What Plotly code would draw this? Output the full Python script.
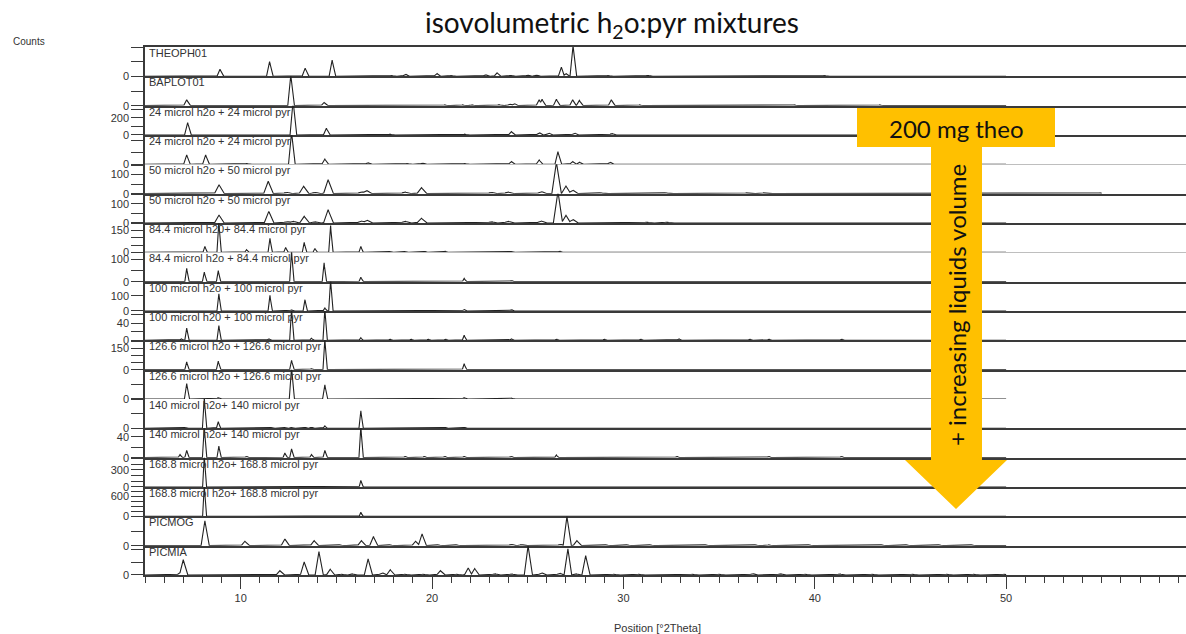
import numpy as np
import plotly.graph_objects as go
from plotly.subplots import make_subplots

# ---------------- data ----------------
sample_names = [
    "THEOPH01", "BAPLOT01",
    "24 microl h2o + 24 microl pyr", "24 microl h2o + 24 microl pyr",
    "50 microl h2o + 50 microl pyr", "50 microl h2o + 50 microl pyr",
    "84.4 microl h20+ 84.4 microl pyr", "84.4 microl h2o + 84.4 microl pyr",
    "100 microl h2o + 100 microl pyr", "100 microl h20 + 100 microl pyr",
    "126.6 microl h2o + 126.6 microl pyr", "126.6 microl h2o + 126.6 microl pyr",
    "140 microl h2o+ 140 microl pyr", "140 microl h2o+ 140 microl pyr",
    "168.8 microl h2o+ 168.8 microl pyr", "168.8 microl h2o+ 168.8 microl pyr",
    "PICMOG", "PICMIA",
]

theoph01_pos = [8.92, 11.51, 13.37, 14.78, 17.88, 18.61, 20.26, 21.0, 22.8, 23.4, 24.1, 25.0, 25.45,
                26.76, 27.0, 27.37, 29.2, 31.27, 32.7, 35.0, 40.5, 41.97, 44.0, 47.0]
theoph01_int = [0.24, 0.5, 0.28, 0.55, 0.03, 0.08, 0.1, 0.03, 0.06, 0.12, 0.04, 0.05, 0.05,
                0.31, 0.1, 1.05, 0.03, 0.04, 0.02, 0.02, 0.03, 0.02, 0.02, 0.02]

baplot01_pos = [7.18, 12.62, 14.36, 20.67, 21.6, 22.1, 23.5, 24.06, 24.3, 25.6, 25.75, 26.5, 27.35,
                27.7, 29.37, 30.85, 33.3, 34.85, 36.4, 38.94, 43.4, 49.3]
baplot01_int = [0.2, 1.05, 0.11, 0.03, 0.03, 0.03, 0.04, 0.06, 0.08, 0.2, 0.22, 0.22, 0.2,
                0.18, 0.2, 0.03, 0.02, 0.02, 0.02, 0.03, 0.03, 0.02]

w24a_pos = [7.23, 9.0, 12.74, 14.48, 17.8, 21.7, 24.15, 25.6, 26.1, 27.45, 29.4, 30.5, 31.0, 36.4, 39.0]
w24a_int = [143, 5, 400, 78, 10, 10, 39, 30, 25, 25, 20, 8, 8, 5, 8]

w24b_pos = [7.18, 8.17, 10.31, 12.66, 14.4, 16.65, 18.7, 19.5, 21.7, 24.15, 25.6, 26.58, 27.35,
            27.7, 29.3, 43.3]
w24b_int = [0.32, 0.32, 0.03, 1.1, 0.18, 0.06, 0.03, 0.05, 0.03, 0.1, 0.15, 0.43, 0.1,
            0.08, 0.08, 0.02]

w50a_pos = [8.87, 11.44, 12.4, 13.29, 13.88, 14.57, 16.3, 16.57, 18.58, 19.45, 23.1, 23.97, 25.7,
            26.5, 27.0, 27.35, 28.8, 32.2, 36.4, 37.3, 42.9, 54.9]
w50a_int = [47, 65, 8, 39, 8, 74, 10, 18, 10, 32, 8, 10, 12,
            165, 40, 20, 5, 5, 4, 4, 3, 4]

w50b_pos = [8.87, 11.47, 12.4, 12.74, 13.32, 13.88, 14.57, 16.3, 16.6, 18.58, 19.45, 23.1, 23.97,
            25.7, 26.58, 27.0, 27.35, 31.2, 32.25, 36.2, 37.6]
w50b_int = [42, 61, 8, 10, 35, 8, 70, 12, 16, 10, 25, 8, 10,
            12, 165, 40, 20, 5, 5, 3, 3]

w84a_pos = [8.13, 8.86, 10.31, 11.53, 12.35, 13.32, 13.88, 14.7, 16.28, 17.8, 18.58, 19.6, 20.67,
            21.1, 24.15, 26.67]
w84a_int = [41, 210, 18, 96, 34, 68, 27, 182, 41, 6, 6, 8, 10, 5, 6, 10]

w84b_pos = [7.18, 8.1, 8.83, 12.66, 14.36, 16.28, 21.68, 24.15, 32.8, 41.4]
w84b_int = [61, 43, 50, 140, 85, 20, 15, 6, 3, 3]

w100a_pos = [8.86, 11.53, 12.66, 13.36, 14.4, 14.7, 16.28, 21.68, 24.15]
w100a_int = [115, 104, 8, 75, 20, 210, 5, 12, 10]

w100b_pos = [6.9, 7.18, 8.86, 11.47, 12.66, 13.7, 14.4, 16.28, 17.8, 18.9, 19.8, 20.7, 21.68,
             24.15, 26.5, 29.0, 30.9, 32.9, 36.6, 37.6, 41.4]
w100b_int = [4, 29, 35, 4, 75, 5, 75, 6, 3, 3, 3, 3, 12, 4, 3, 3, 3, 4, 3, 3, 3]

w126a_pos = [7.18, 8.83, 12.66, 13.7, 14.4, 16.28, 21.68, 24.15, 29.0, 32.8, 36.6]
w126a_int = [55, 60, 67, 8, 220, 5, 43, 5, 3, 3, 3]

w126b_pos = [7.18, 8.83, 12.66, 14.4, 21.68, 24.15]
w126b_int = [0.53, 0.05, 1.1, 0.48, 0.05, 0.03]

w140a_pos = [6.83, 7.09, 8.1, 8.83, 10.31, 11.6, 12.31, 12.66, 13.36, 13.7, 14.4, 16.28, 20.67,
             21.68, 26.6, 32.8, 37.6, 41.4]
w140a_int = [0.02, 0.03, 1.05, 0.23, 0.02, 0.03, 0.03, 0.03, 0.04, 0.04, 0.08, 0.6, 0.04,
             0.04, 0.02, 0.02, 0.02, 0.02]

w140b_pos = [6.83, 7.18, 8.1, 8.86, 10.31, 12.31, 12.66, 13.7, 14.4, 16.28, 18.6, 19.6, 20.67,
             21.68, 24.15, 26.5, 32.8, 37.6, 41.4]
w140b_int = [6, 14, 60, 22, 3, 9, 17, 6, 14, 60, 3, 3, 3, 3, 3, 5, 3, 3, 3]

w168a_pos = [7.09, 8.1, 10.31, 11.61, 12.31, 12.66, 13.7, 16.28, 29.0, 32.8, 36.6]
w168a_int = [10, 560, 5, 8, 8, 8, 5, 118, 4, 4, 4]

w168b_pos = [8.1, 16.28, 29.0, 30.9, 36.6]
w168b_int = [950, 120, 5, 5, 5]

picmog_pos = [8.13, 10.22, 12.31, 13.84, 15.18, 16.31, 16.94, 17.8, 19.14, 19.48, 20.32, 21.28,
              24.15, 24.67, 26.7, 27.05, 27.57, 29.1, 30.2, 31.4, 34.3, 36.9, 37.6, 39.7, 43.5,
              44.8, 46.5, 48.2]
picmog_int = [0.85, 0.15, 0.23, 0.17, 0.03, 0.17, 0.31, 0.03, 0.15, 0.4, 0.03, 0.03,
              0.05, 0.04, 0.05, 1.0, 0.17, 0.03, 0.03, 0.03, 0.03, 0.03, 0.03, 0.03, 0.03,
              0.03, 0.03, 0.03]

picmia_pos = [6.8, 7.0, 9.09, 12.05, 13.32, 14.09, 14.68, 15.27, 15.79, 16.66, 17.39, 17.82, 18.58,
              19.53, 20.44, 21.28, 21.89, 22.23, 23.28, 24.15, 25.02, 25.72, 26.67, 27.1, 27.5,
              28.03, 29.5, 30.8, 33.6, 35.0, 36.75, 38.2, 39.5, 41.3, 43.0, 45.1, 46.9, 48.3, 49.9]
picmia_int = [0.05, 0.52, 0.02, 0.15, 0.45, 0.8, 0.2, 0.03, 0.05, 0.55, 0.08, 0.18, 0.03,
              0.03, 0.15, 0.03, 0.24, 0.22, 0.05, 0.04, 1.0, 0.08, 0.07, 0.89, 0.05,
              0.66, 0.03, 0.03, 0.03, 0.03, 0.05, 0.05, 0.03, 0.04, 0.03, 0.03, 0.03, 0.03, 0.03]

# peak half-widths (deg 2Theta) per pattern
peak_halfwidth = [0.16, 0.16, 0.16, 0.16, 0.24, 0.24, 0.1, 0.1, 0.1, 0.1,
                  0.1, 0.12, 0.1, 0.1, 0.09, 0.09, 0.2, 0.2]

# y-axis scale per panel: top of range, tick spacing, labelled tick values
y_top = [1.0, 1.0, 340, 1.0, 154, 154, 200, 133, 195, 69, 209, 1.0, 1.0, 56, 517, 879, 1.0, 1.0]
y_dtick = [0.5, 0.5, 100, 0.4, 50, 50, 50, 50, 100, 20, 50, 0.5, 0.5, 20, 100, 150, 0.5, 0.44]
y_labelled = [[0], [0], [0, 200], [0], [0, 100], [0, 100], [0, 150], [0, 100], [0, 100], [0, 40],
              [0, 150], [0], [0], [0, 40], [0, 300], [0, 600], [0], [0]]

pattern_pos = [theoph01_pos, baplot01_pos, w24a_pos, w24b_pos, w50a_pos, w50b_pos, w84a_pos,
               w84b_pos, w100a_pos, w100b_pos, w126a_pos, w126b_pos, w140a_pos, w140b_pos,
               w168a_pos, w168b_pos, picmog_pos, picmia_pos]
pattern_int = [theoph01_int, baplot01_int, w24a_int, w24b_int, w50a_int, w50b_int, w84a_int,
               w84b_int, w100a_int, w100b_int, w126a_int, w126b_int, w140a_int, w140b_int,
               w168a_int, w168b_int, picmog_int, picmia_int]
scan_end = [50, 50, 50, 50, 55, 50, 50, 50, 50, 50, 50, 50, 50, 50, 50, 50, 50, 50]

# ---------------- figure ----------------
N = len(sample_names)
fig = make_subplots(rows=N, cols=1, shared_xaxes=True, vertical_spacing=0)

line_col = "#222222"
axis_col = "#3a3a3a"
txt_col = "#333333"
font_ax = "Liberation Sans, Arial, sans-serif"

for i in range(N):
    two_theta = np.arange(5.0, scan_end[i] + 0.001, 0.01)
    pos = np.array(pattern_pos[i], dtype=float)
    hgt = np.array(pattern_int[i], dtype=float)
    w = peak_halfwidth[i]
    prof = np.clip(1 - np.abs(two_theta[:, None] - pos[None, :]) / w, 0, None) * hgt[None, :]
    y = prof.max(axis=1)
    fig.add_trace(go.Scatter(x=two_theta, y=y, mode="lines",
                             line=dict(color=line_col, width=1.1), showlegend=False,
                             hoverinfo="skip"), row=i + 1, col=1)
    tv = list(np.round(np.arange(0, y_top[i] + 1e-9, y_dtick[i]), 4))
    tt = [str(int(v)) if any(abs(v - l) < 1e-6 for l in y_labelled[i]) else "" for v in tv]
    fig.update_yaxes(row=i + 1, col=1, range=[0, y_top[i]], tickvals=tv, ticktext=tt,
                     ticks="outside", ticklen=12, tickcolor=axis_col, tickwidth=1,
                     showline=True, linecolor=axis_col, linewidth=1.5, showgrid=False,
                     zeroline=False, tickfont=dict(family=font_ax, size=11, color=txt_col),
                     fixedrange=True)
    last = (i == N - 1)
    fig.update_xaxes(row=i + 1, col=1, range=[5, 59.4], showline=True, linecolor=axis_col,
                     linewidth=2, showgrid=False, zeroline=False,
                     mirror=(i == 0), ticks="outside" if last else "",
                     showticklabels=last, tick0=0, dtick=10, ticklen=12, tickcolor=axis_col,
                     tickfont=dict(family=font_ax, size=11, color=txt_col),
                     minor=dict(dtick=1, ticks="outside" if last else "", ticklen=6,
                                tickcolor=axis_col))
    yref = "y domain" if i == 0 else f"y{i + 1} domain"
    fig.add_annotation(text=sample_names[i], x=0, xref="paper", xanchor="left", xshift=2,
                       y=1, yref=yref, yanchor="top", yshift=2, showarrow=False,
                       font=dict(family=font_ax, size=11, color=txt_col))

# helpers converting picture pixels to paper coordinates (decoration placement only)
L, R, T, B = 145, 1186, 47, 575
def px(x):
    return (x - L) / (R - L)
def py(y):
    return (B - y) / (B - T)

def label(text, x, y, size, family, color="#111111", angle=0):
    fig.add_annotation(text=text, x=px(x), y=py(y), xref="paper", yref="paper",
                       xanchor="center", yanchor="middle", showarrow=False, textangle=angle,
                       font=dict(family=family, size=size, color=color))

# texts
label("isovolumetric h<sub>2</sub>o:pyr mixtures", 612, 24, 28, "Lato, sans-serif")
label("Counts", 29, 42, 10, font_ax, txt_col)
label("Position [°2Theta]", 657, 628, 11, font_ax, txt_col)

# arrow decoration
pts = [(857, 108), (1055, 108), (1055, 147), (982, 147), (982, 460), (1007, 460), (956, 509),
       (905, 460), (931, 460), (931, 147), (857, 147)]
path = "M " + " L ".join(f"{px(a):.5f},{py(b):.5f}" for a, b in pts) + " Z"
fig.add_shape(type="path", path=path, xref="paper", yref="paper",
              fillcolor="#FFC000", line=dict(width=0), layer="above")
label("200 mg theo", 956, 128, 24, "Lato, sans-serif")
label("+ increasing liquids volume", 956, 305, 24, "Lato, sans-serif", angle=-90)

fig.update_layout(width=1186, height=634, margin=dict(l=L, r=1186 - R, t=T, b=634 - B),
                  paper_bgcolor="white", plot_bgcolor="white", showlegend=False)

fig.write_html("out.html")
